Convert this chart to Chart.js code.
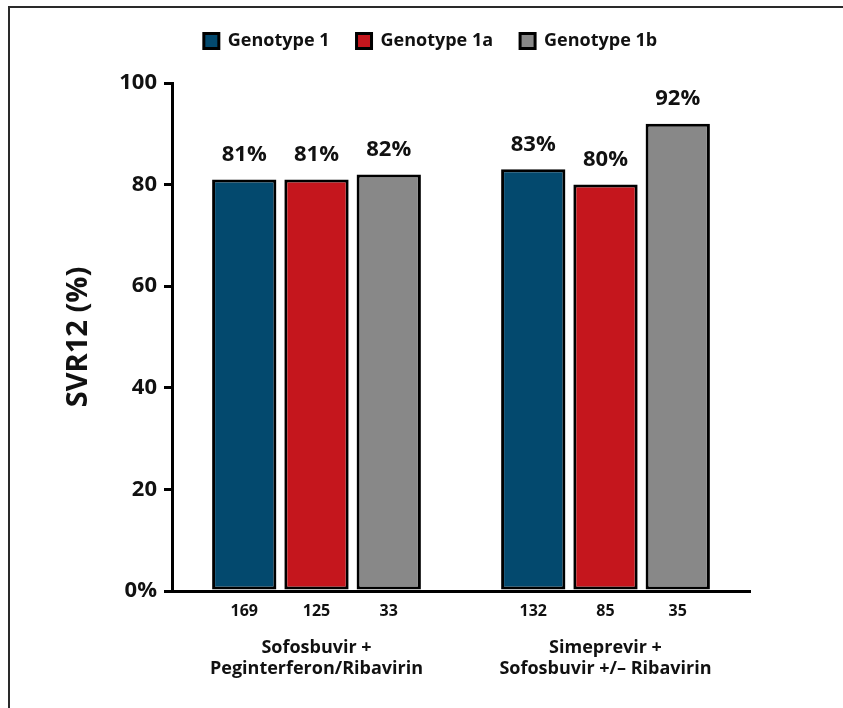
<!DOCTYPE html>
<html>
<head>
<meta charset="utf-8">
<script src="https://cdn.jsdelivr.net/npm/chart.js@4.4.1/dist/chart.umd.min.js"></script>
<style>
  html, body { margin: 0; padding: 0; background: #fff; }
  #wrap { position: relative; width: 843px; height: 708px; overflow: hidden; }
  #wrap canvas { position: absolute; left: 0; top: 0; }
  #frame { position: absolute; left: 8px; top: 6px; right: -4px; bottom: -4px;
           border-top: 2px solid #2a2a2a; border-left: 2px solid #2a2a2a; pointer-events: none; }
</style>
</head>
<body>
<div id="wrap">
  <canvas id="chart" width="843" height="708"></canvas>
  <div id="frame"></div>
</div>
<script>
// Treatment regimens (two-line category labels)
const regimens = [
  ['Sofosbuvir +', 'Peginterferon/Ribavirin'],
  ['Simeprevir +', 'Sofosbuvir +/\u2013 Ribavirin']
];
const genotypes = ['Genotype 1', 'Genotype 1a', 'Genotype 1b'];

// SVR12 rates (%) per regimen
const svrGenotype1  = [81, 83];
const svrGenotype1a = [81, 80];
const svrGenotype1b = [82, 92];

// Number of patients per bar
const patientsGenotype1  = [169, 132];
const patientsGenotype1a = [125, 85];
const patientsGenotype1b = [33, 35];

const yTickLabels = ['0%', '20', '40', '60', '80', '100'];

const colors = ['#03496e', '#c5161d', '#888888'];
const FONT = "'Open Sans', 'DejaVu Sans', sans-serif";
Chart.defaults.font.family = FONT;
Chart.defaults.color = '#111';

const seriesValues = [svrGenotype1, svrGenotype1a, svrGenotype1b];
const patientCounts = [patientsGenotype1, patientsGenotype1a, patientsGenotype1b];

// Percent labels above bars and patient counts under the axis
const barAnnotations = {
  id: 'barAnnotations',
  afterDatasetsDraw(chart) {
    const { ctx, chartArea } = chart;
    ctx.save();
    ctx.fillStyle = '#111';
    ctx.textAlign = 'center';
    ctx.textBaseline = 'middle';
    chart.data.datasets.forEach((ds, di) => {
      const meta = chart.getDatasetMeta(di);
      meta.data.forEach((bar, i) => {
        ctx.font = `bold 22px ${FONT}`;
        ctx.fillText(ds.data[i] + '%', bar.x, bar.y - 25);
        ctx.font = `bold 16px ${FONT}`;
        ctx.fillText(String(patientCounts[di][i]), bar.x, chartArea.bottom + 20);
      });
    });
    ctx.restore();
  }
};

// Moves the legend after layout
const legendShift = {
  id: 'legendShift',
  afterLayout(chart, args, opts) {
    const lg = chart.legend;
    if (!lg) return;
    const dx = opts.dx || 0, dy = opts.dy || 0;
    lg.left += dx; lg.right += dx;
    lg.top += dy; lg.bottom += dy;
  }
};

new Chart(document.getElementById('chart'), {
  type: 'bar',
  data: {
    labels: regimens,
    datasets: genotypes.map((g, i) => ({
      label: g,
      data: seriesValues[i],
      backgroundColor: colors[i],
      borderColor: '#000',
      borderWidth: 3,
      borderSkipped: false,
      categoryPercentage: 0.75,
      barPercentage: 0.89
    }))
  },
  options: {
    responsive: false,
    animation: false,
    devicePixelRatio: 1,
    layout: { padding: { left: 61, right: 93, top: 28, bottom: 29 } },
    plugins: {
      legend: {
        display: true,
        position: 'top',
        labels: {
          boxWidth: 15,
          boxHeight: 15,
          padding: 27,
          color: '#111',
          font: { size: 18, weight: 'bold' }
        }
      },
      tooltip: { enabled: false },
      legendShift: { dx: 25, dy: -23 }
    },
    scales: {
      x: {
        offset: true,
        grid: { display: false, drawTicks: false },
        border: { display: true, color: '#000', width: 3 },
        ticks: {
          padding: 46,
          color: '#111',
          maxRotation: 0,
          autoSkip: false,
          font: { size: 18, weight: 'bold', lineHeight: 1.17 }
        },
        afterFit(scale) {
          scale.height = 88;
        }
      },
      y: {
        min: 0,
        max: 100,
        ticks: {
          stepSize: 20,
          padding: 7,
          color: '#111',
          font: { size: 22, weight: 'bold' },
          callback: (v) => yTickLabels[Math.round(v / 20)]
        },
        grid: { display: true, drawOnChartArea: false, drawTicks: true, tickLength: 8, color: '#000', lineWidth: 3 },
        border: { display: true, color: '#000', width: 3 },
        title: {
          display: true,
          text: 'SVR12 (%)',
          color: '#111',
          font: { size: 29, weight: 'bold' },
          padding: { top: 0, bottom: 0 }
        },
        afterFit(scale) {
          scale.width = 111;
        }
      }
    }
  },
  plugins: [barAnnotations, legendShift]
});
</script>
</body>
</html>
